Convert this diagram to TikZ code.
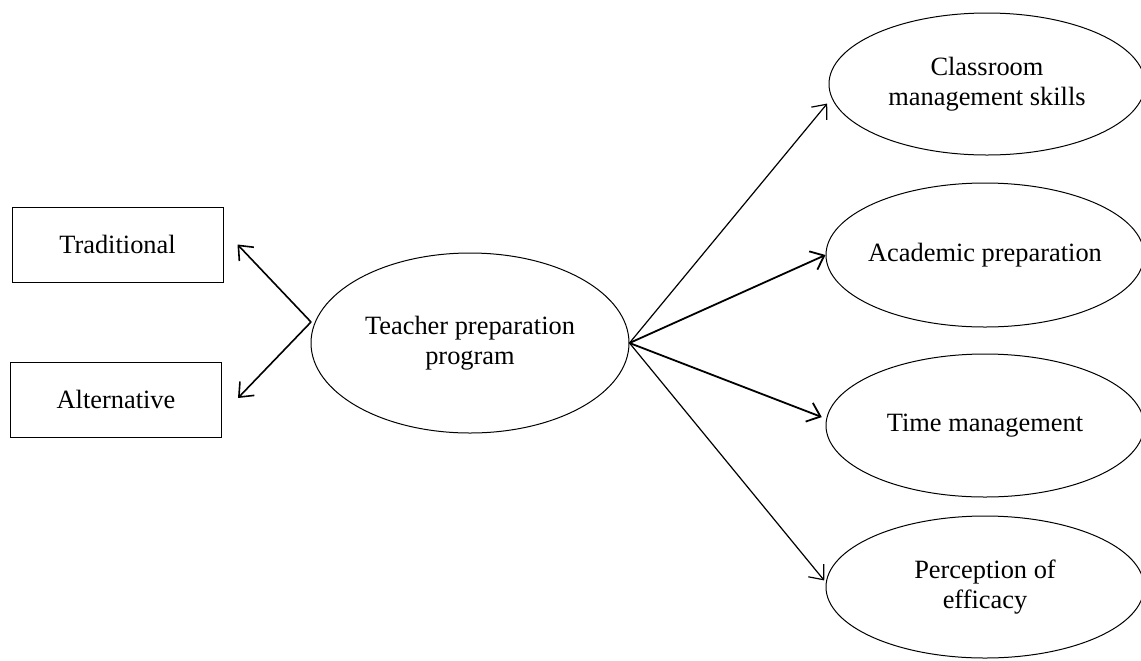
\documentclass[tikz,border=0pt]{standalone}
\usepackage{fontspec}
\setmainfont{Liberation Serif}
\usetikzlibrary{shapes.geometric,arrows.meta}
\begin{document}
\begin{tikzpicture}[x=0.5pt,y=-0.5pt,
  every node/.style={font=\fontsize{13.2}{15}\selectfont, align=center, inner sep=0pt},
  oval/.style={draw, ellipse, line width=0.5pt},
  sqbox/.style={draw, rectangle, line width=0.5pt, minimum width=105.5pt, minimum height=37.5pt},
  arr/.style={-{Straight Barb[length=6pt,width=10pt]}, line width=0.8pt},
  thinarr/.style={arr, line width=0.6pt},
  thickarr/.style={arr, line width=0.9pt}]
\useasboundingbox (0,0) rectangle (1141,660);
\node[sqbox] (trad) at (117.5,244.5) {Traditional};
\node[sqbox] (alt) at (116,399.5) {Alternative};
\node[oval, minimum width=159pt, minimum height=90pt] (tpp) at (470,343) {Teacher preparation\\program};
\node[oval, minimum width=158pt, minimum height=71pt] (cls) at (987,84) {Classroom\\\makebox[90pt]{management skills}};
\node[oval, minimum width=159pt, minimum height=72pt] (aca) at (985,255) {\makebox[90pt]{Academic preparation}};
\node[oval, minimum width=159pt, minimum height=71.5pt] (tim) at (985,425.5) {\makebox[90pt]{Time management}};
\node[oval, minimum width=159pt, minimum height=71pt] (per) at (985,587) {Perception of\\efficacy};
\coordinate (apex) at (311,322);
\draw[arr] (apex) -- ([xshift=7pt]trad.east);
\draw[arr] (apex) -- ([xshift=8pt,yshift=0.75pt]alt.east);
\draw[thinarr, shorten >=1pt] (tpp.east) -- ([yshift=-9pt]cls.west);
\draw[thickarr] (tpp.east) -- (aca.west);
\draw[thickarr, shorten >=2pt] (tpp.east) -- ([yshift=3.5pt]tim.west);
\draw[thinarr, shorten >=1pt] (tpp.east) -- ([yshift=2.5pt]per.west);
\end{tikzpicture}
\end{document}
